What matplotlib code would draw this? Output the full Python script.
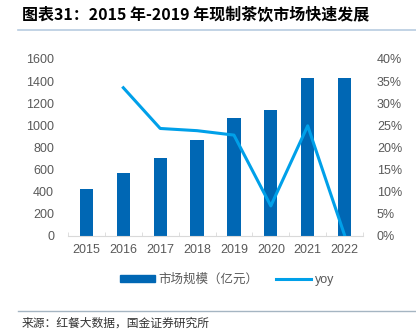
import numpy as np
import matplotlib.pyplot as plt
from matplotlib.lines import Line2D
from matplotlib.patches import Patch

plt.rcParams['font.family'] = ['Liberation Sans', 'Noto Sans CJK SC', 'DejaVu Sans']

years = ['2015', '2016', '2017', '2018', '2019', '2020', '2021', '2022']
market_size = [422, 567, 702, 868, 1070, 1142, 1426, 1426]
yoy = [np.nan, 33.5, 24.3, 23.8, 22.8, 6.8, 24.9, 0.2]

bar_color = '#0067B4'
line_color = '#00A0E9'
grey = '#595959'

fig = plt.figure(figsize=(4.16, 3.29), dpi=100)
ax = fig.add_axes([0.1635, 0.2827, 0.7091, 0.538])
x = np.arange(len(years))
ax.bar(x, market_size, width=0.36, color=bar_color, zorder=2)
ax.set_ylim(0, 1600)
ax.set_yticks(range(0, 1601, 200))
ax.set_xlim(-0.5, len(years) - 0.5)
ax.set_xticks(x)
ax.set_xticklabels(years)
ax.set_xticks(np.arange(-0.5, len(years), 1), minor=True)
ax.tick_params(axis='x', which='major', length=0, pad=6, labelsize=9, labelcolor=grey)
ax.tick_params(axis='x', which='minor', length=3, color='#D9D9D9', direction='in')
ax.tick_params(axis='y', length=0, pad=10, labelsize=9, labelcolor=grey)
for s in ['top', 'right', 'left']:
    ax.spines[s].set_visible(False)
ax.spines['bottom'].set_color('#D9D9D9')

ax2 = ax.twinx()
ax2.plot(x, yoy, color=line_color, linewidth=2.2, zorder=3)
ax2.set_ylim(0, 40)
ax2.set_yticks(range(0, 41, 5))
ax2.set_yticklabels([f'{v}%' for v in range(0, 41, 5)])
ax2.tick_params(axis='y', length=0, pad=10, labelsize=9, labelcolor=grey)
for s in ['top', 'right', 'left', 'bottom']:
    ax2.spines[s].set_visible(False)

handles = [Patch(color=bar_color, label='市场规模（亿元）'),
           Line2D([0], [0], color=line_color, linewidth=2.2, label='yoy')]
fig.legend(handles=handles, loc='center', bbox_to_anchor=(0.545, 0.149), ncol=2,
           frameon=False, fontsize=9, labelcolor=grey, handlelength=2.8,
           handleheight=0.5, columnspacing=1.4, handletextpad=0.3)

fig.text(0.053, 0.955, '图表31：2015 年-2019 年现制茶饮市场快速发展', fontsize=11.5,
         fontweight='bold', style='italic', va='center', ha='left',
         family=['Noto Sans CJK SC', 'DejaVu Sans'])
fig.add_artist(Line2D([0.043, 1.0], [0.909, 0.909], color='#B8CCE0', linewidth=1.2))
fig.add_artist(Line2D([0.043, 1.0], [0.055, 0.055], color='#A5B5C2', linewidth=1.0))
fig.text(0.053, 0.018, '来源：红餐大数据，国金证券研究所', fontsize=8.5, va='center',
         ha='left', color='#333333', family=['Noto Sans CJK SC', 'DejaVu Sans'])

fig.savefig('out.png', dpi=100)
